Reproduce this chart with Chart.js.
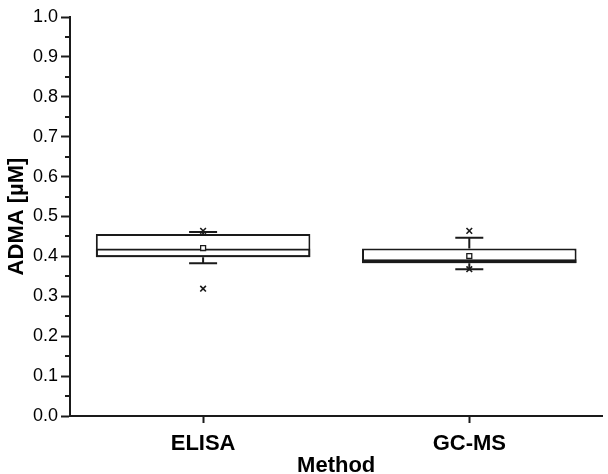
<!DOCTYPE html>
<html>
<head>
<meta charset="utf-8">
<script src="https://cdn.jsdelivr.net/npm/chart.js@4"></script>
<style>
  html, body { margin: 0; padding: 0; background: #fff; }
  #wrap { width: 608px; height: 474px; }
</style>
</head>
<body>
<div id="wrap"><canvas id="chart" width="608" height="474"></canvas></div>
<script>
// values (ADMA in µM)
const methods = ['ELISA', 'GC-MS'];
const q1 = [0.398, 0.383];
const median = [0.420, 0.393];
const q3 = [0.456, 0.420];
const whiskerLow = [0.383, 0.368];
const whiskerHigh = [0.461, 0.447];
const means = [0.421, 0.401];
const outliers = [
  [0.464, 0.319], // ELISA
  [0.464, 0.368]  // GC-MS
];
const yTicks = [0.0, 0.1, 0.2, 0.3, 0.4, 0.5, 0.6, 0.7, 0.8, 0.9, 1.0];

const ink = '#1a1a1a';
const fontFamily = 'Liberation Sans, Arial, sans-serif';

// whiskers + minor y ticks drawn with the chart's own scales
const boxExtras = {
  id: 'boxExtras',
  afterDatasetsDraw(chart) {
    const { ctx, scales: { x, y } } = chart;
    ctx.save();
    ctx.strokeStyle = ink;
    ctx.lineWidth = 2;
    methods.forEach((m, i) => {
      const cx = x.getPixelForValue(i);
      [[q1[i], whiskerLow[i]], [q3[i], whiskerHigh[i]]].forEach(([from, to]) => {
        ctx.beginPath();
        ctx.moveTo(cx, y.getPixelForValue(from));
        ctx.lineTo(cx, y.getPixelForValue(to));
        ctx.moveTo(cx - 14, y.getPixelForValue(to));
        ctx.lineTo(cx + 14, y.getPixelForValue(to));
        ctx.stroke();
      });
    });
    ctx.restore();
  },
  afterDraw(chart) {
    const { ctx, scales: { y }, chartArea } = chart;
    ctx.save();
    ctx.strokeStyle = ink;
    ctx.lineWidth = 2;
    for (let i = 0; i < yTicks.length - 1; i++) {
      const py = Math.round(y.getPixelForValue(yTicks[i] + 0.05));
      ctx.beginPath();
      ctx.moveTo(chartArea.left - 5, py);
      ctx.lineTo(chartArea.left, py);
      ctx.stroke();
    }
    ctx.restore();
  }
};

const outlierPoints = [];
outliers.forEach((vals, i) => vals.forEach(v => outlierPoints.push({ x: methods[i], y: v })));

new Chart(document.getElementById('chart'), {
  type: 'bar',
  data: {
    labels: methods,
    datasets: [
      {
        label: 'Q1-Q3',
        data: methods.map((m, i) => [q1[i], q3[i]]),
        backgroundColor: '#ffffff',
        borderColor: ink,
        borderWidth: 2,
        borderSkipped: false,
        grouped: false,
        barPercentage: 0.806,
        categoryPercentage: 1,
        order: 3
      },
      {
        label: 'Median',
        data: methods.map((m, i) => [q1[i], median[i]]),
        backgroundColor: 'rgba(255,255,255,0)',
        borderColor: ink,
        borderWidth: 2,
        borderSkipped: false,
        grouped: false,
        barPercentage: 0.806,
        categoryPercentage: 1,
        order: 2
      },
      {
        type: 'line',
        label: 'Mean',
        data: methods.map((m, i) => ({ x: m, y: means[i] })),
        showLine: false,
        pointStyle: 'rect',
        pointRadius: 3.5,
        pointBackgroundColor: '#ffffff',
        pointBorderColor: ink,
        pointBorderWidth: 1.3,
        order: 1
      },
      {
        type: 'line',
        label: 'Outliers',
        data: outlierPoints,
        showLine: false,
        pointStyle: 'crossRot',
        pointRadius: 4,
        pointBorderColor: ink,
        pointBorderWidth: 1.6,
        order: 0
      }
    ]
  },
  options: {
    responsive: false,
    animation: false,
    layout: { padding: { top: 17, right: 2, left: 0, bottom: 0 } },
    plugins: {
      legend: { display: false },
      tooltip: { enabled: false }
    },
    scales: {
      x: {
        offset: true,
        afterFit(scale) { scale.height = 58; },
        grid: {
          offset: false,
          drawOnChartArea: false,
          tickLength: 7,
          tickColor: ink,
          tickWidth: 2
        },
        border: { color: ink, width: 2 },
        ticks: {
          color: '#000',
          padding: 8,
          font: { family: fontFamily, size: 22, weight: 'bold' }
        },
        title: {
          display: true,
          text: 'Method',
          color: '#000',
          padding: { top: 0, bottom: -5 },
          font: { family: fontFamily, size: 22, weight: 'bold' }
        }
      },
      y: {
        min: 0,
        max: 1,
        afterFit(scale) { scale.width = 70; },
        afterBuildTicks(scale) { scale.ticks = yTicks.map(v => ({ value: v })); },
        grid: {
          drawOnChartArea: false,
          tickLength: 9,
          tickColor: ink,
          tickWidth: 2
        },
        border: { color: ink, width: 2 },
        ticks: {
          color: '#000',
          padding: 3,
          callback: v => v.toFixed(1),
          font: { family: fontFamily, size: 18 }
        },
        title: {
          display: true,
          text: 'ADMA [µM]',
          color: '#000',
          padding: { top: 4, bottom: 0 },
          font: { family: fontFamily, size: 22, weight: 'bold' }
        }
      }
    }
  },
  plugins: [boxExtras]
});
</script>
</body>
</html>
